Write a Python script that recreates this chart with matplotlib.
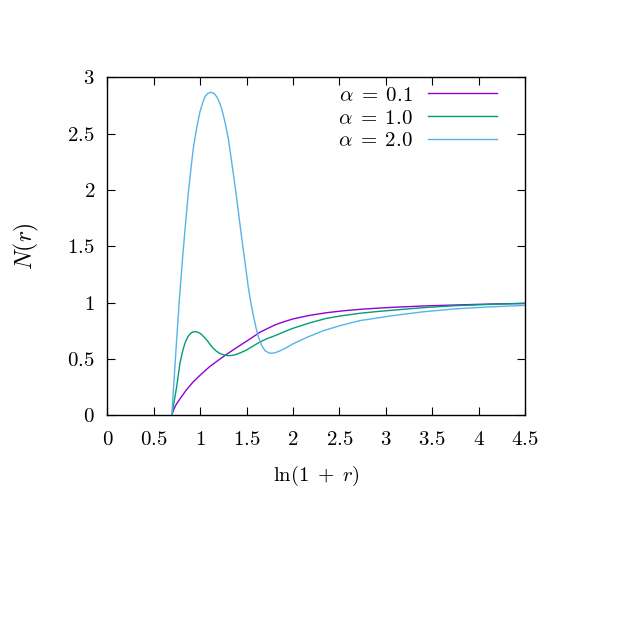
import matplotlib
matplotlib.use("Agg")
import matplotlib.pyplot as plt

matplotlib.rc('mathtext', fontset='cm')
matplotlib.rc('font', family='serif', serif=['cmr10', 'DejaVu Serif'], size=14)
matplotlib.rc('axes', unicode_minus=False)

# values
x_a01 = [0.693, 0.71, 0.74, 0.78, 0.85, 0.925, 1.0, 1.1, 1.2, 1.3, 1.4, 1.5,
         1.65, 1.8, 1.9, 2.0, 2.18, 2.36, 2.54, 2.72, 2.9, 3.08, 3.4, 3.76, 4.12, 4.5]
y_a01 = [0.0, 0.045, 0.095, 0.145, 0.225, 0.298, 0.357, 0.431, 0.492, 0.55, 0.605, 0.658,
         0.74, 0.80, 0.83, 0.855, 0.887, 0.91, 0.927, 0.94, 0.95, 0.958, 0.970, 0.979,
         0.987, 0.993]

x_a10 = [0.693, 0.72, 0.746, 0.781, 0.81, 0.835, 0.865, 0.889, 0.915, 0.943, 0.97, 1.0,
         1.035, 1.07, 1.105, 1.14, 1.175, 1.21, 1.25, 1.30, 1.35, 1.39, 1.44, 1.5,
         1.57, 1.643, 1.72, 1.823, 1.9, 2.0, 2.18, 2.36, 2.54, 2.72, 2.9, 3.04, 3.4,
         3.76, 4.12, 4.5]
y_a10 = [0.0, 0.13, 0.254, 0.461, 0.57, 0.639, 0.695, 0.721, 0.738, 0.742, 0.738, 0.727,
         0.70, 0.668, 0.63, 0.594, 0.568, 0.55, 0.536, 0.529, 0.532, 0.541, 0.557, 0.58,
         0.615, 0.65, 0.68, 0.712, 0.74, 0.772, 0.82, 0.86, 0.885, 0.905, 0.92, 0.93,
         0.955, 0.973, 0.984, 0.993]

x_a20 = [0.693, 0.74, 0.774, 0.81, 0.835, 0.871, 0.9, 0.925, 0.961, 0.997, 1.025,
         1.051, 1.08, 1.115, 1.15, 1.177, 1.205, 1.23, 1.266, 1.302, 1.338, 1.374,
         1.41, 1.446, 1.48, 1.517, 1.545, 1.571, 1.60, 1.625, 1.662, 1.697, 1.735,
         1.769, 1.81, 1.859, 1.93, 2.002, 2.146, 2.325, 2.505, 2.72, 3.08, 3.4, 3.76,
         4.12, 4.5]
y_a20 = [0.0, 0.6, 1.02, 1.4, 1.643, 1.97, 2.19, 2.369, 2.547, 2.694, 2.77,
         2.827, 2.855, 2.866, 2.855, 2.827, 2.78, 2.724, 2.605, 2.458, 2.25, 2.04,
         1.81, 1.58, 1.37, 1.14, 1.0, 0.89, 0.78, 0.70, 0.62, 0.575, 0.555,
         0.55, 0.556, 0.572, 0.60, 0.635, 0.69, 0.75, 0.795, 0.84, 0.885, 0.918, 0.945,
         0.962, 0.975]

labels = [r'$\alpha\;=\;0.1$', r'$\alpha\;=\;1.0$', r'$\alpha\;=\;2.0$']
colors = ['#9400d3', '#009e73', '#56b4e9']

xticks = [0, 0.5, 1, 1.5, 2, 2.5, 3, 3.5, 4, 4.5]
yticks = [0, 0.5, 1, 1.5, 2, 2.5, 3]

fig = plt.figure(figsize=(6.3, 6.3), dpi=100)
ax = fig.add_axes([0.1706, 0.3408, 0.6627, 0.5367])

for xs, ys, lab, c in zip([x_a01, x_a10, x_a20], [y_a01, y_a10, y_a20], labels, colors):
    ax.plot(xs, ys, color=c, lw=1.0, label=lab)

ax.set_xlim(0, 4.5)
ax.set_ylim(0, 3)
ax.set_xticks(xticks)
ax.set_xticklabels([f'${t:g}$' for t in xticks])
ax.set_yticks(yticks)
ax.set_yticklabels([f'${t:g}$' for t in yticks])
ax.tick_params(direction='in', length=6, width=0.8, top=True, right=True,
               labelsize=15, pad=9)
ax.tick_params(axis='x', pad=11)
for s in ax.spines.values():
    s.set_linewidth(1.0)

ax.set_xlabel(r'$\ln(1\;+\;r)$', fontsize=15, labelpad=11)
ax.set_ylabel(r'$N(r)$', fontsize=17, labelpad=19)

ax.legend(loc='upper right', bbox_to_anchor=(0.952, 0.998), frameon=False,
          markerfirst=False, fontsize=15, handlelength=3.3, handletextpad=0.7,
          labelspacing=0.2, borderaxespad=0)

fig.savefig('out.png', dpi=100)
